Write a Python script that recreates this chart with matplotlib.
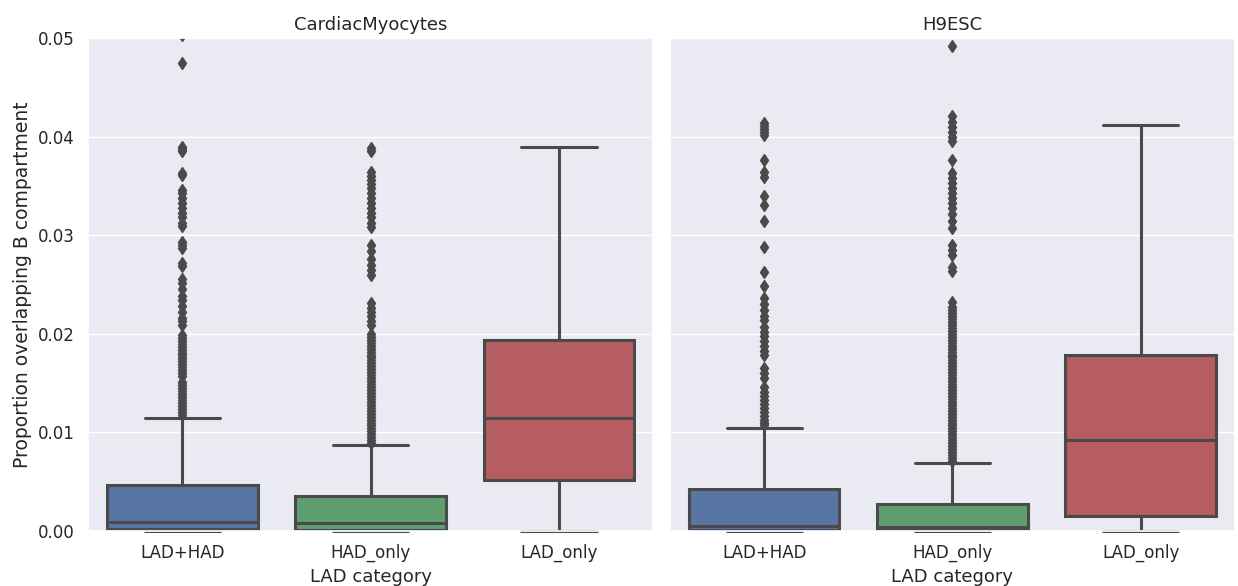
import matplotlib
matplotlib.use("Agg")
import matplotlib.pyplot as plt
import seaborn as sns

sns.set_theme(style="darkgrid")
plt.rcParams['font.family'] = ['DejaVu Sans']

panels = ["CardiacMyocytes", "H9ESC"]
categories = ["LAD+HAD", "HAD_only", "LAD_only"]
box_colors = ["#5975a4", "#5f9e6e", "#b55d60"]
edge_gray = "#4a4a4a"

# box statistics per panel, per category
cm_q1 = [0.0002, 0.0001, 0.0052]
cm_med = [0.0009, 0.0008, 0.0115]
cm_q3 = [0.0047, 0.0035, 0.0194]
cm_whislo = [0.0, 0.0, 0.0]
cm_whishi = [0.0115, 0.0087, 0.0389]

h9_q1 = [0.0001, 0.0001, 0.0015]
h9_med = [0.0005, 0.0004, 0.0092]
h9_q3 = [0.0043, 0.0027, 0.0179]
h9_whislo = [0.0, 0.0, 0.0]
h9_whishi = [0.0104, 0.0069, 0.0412]

cm_fliers_ladhad = [
    0.0503, 0.0475, 0.0389, 0.0387, 0.0385, 0.0363, 0.0361, 0.0346, 0.0343,
    0.0338, 0.0333, 0.0328, 0.0323, 0.0318, 0.0312, 0.0309, 0.0293, 0.0290,
    0.0287, 0.0272, 0.0269, 0.0256, 0.0252, 0.0245, 0.0238, 0.0234, 0.0228,
    0.0222, 0.0216, 0.0213, 0.0209, 0.0199, 0.0196, 0.0193, 0.0190, 0.0187,
    0.0184, 0.0181, 0.0178, 0.0175, 0.0172, 0.0169, 0.0166, 0.0163, 0.0160,
    0.0157, 0.0151, 0.0148, 0.0145, 0.0142, 0.0139, 0.0136, 0.0133, 0.0130,
    0.0127, 0.0124, 0.0121, 0.0118,
]
cm_fliers_hadonly = [
    0.0388, 0.0385, 0.0364, 0.0360, 0.0356, 0.0352, 0.0348, 0.0343, 0.0338,
    0.0333, 0.0328, 0.0323, 0.0318, 0.0312, 0.0308, 0.0290, 0.0284, 0.0276,
    0.0270, 0.0265, 0.0260, 0.0231, 0.0226, 0.0222, 0.0218, 0.0213, 0.0209,
    0.0200, 0.0197, 0.0194, 0.0191, 0.0188, 0.0185, 0.0182, 0.0179, 0.0176,
    0.0173, 0.0170, 0.0167, 0.0164, 0.0161, 0.0158, 0.0155, 0.0152, 0.0149,
    0.0146, 0.0143, 0.0140, 0.0137, 0.0134, 0.0131, 0.0128, 0.0125, 0.0122,
    0.0119, 0.0116, 0.0113, 0.0110, 0.0107, 0.0104, 0.0101, 0.0098, 0.0095,
    0.0092, 0.0089,
]
cm_fliers_ladonly = []

h9_fliers_ladhad = [
    0.0414, 0.0411, 0.0408, 0.0405, 0.0402, 0.0376, 0.0364, 0.0359, 0.0340,
    0.0331, 0.0314, 0.0288, 0.0263, 0.0248, 0.0236, 0.0230, 0.0224, 0.0218,
    0.0214, 0.0207, 0.0202, 0.0198, 0.0193, 0.0188, 0.0183, 0.0178, 0.0165,
    0.0160, 0.0155, 0.0146, 0.0141, 0.0137, 0.0133, 0.0129, 0.0125, 0.0121,
    0.0117, 0.0113, 0.0110, 0.0107,
]
h9_fliers_hadonly = [
    0.0492, 0.0421, 0.0415, 0.0410, 0.0405, 0.0400, 0.0396, 0.0376, 0.0363,
    0.0358, 0.0353, 0.0348, 0.0343, 0.0338, 0.0333, 0.0328, 0.0321, 0.0314,
    0.0307, 0.0290, 0.0285, 0.0280, 0.0268, 0.0264, 0.0232, 0.0227, 0.0224,
    0.0221, 0.0218, 0.0215, 0.0212, 0.0209, 0.0206, 0.0203, 0.0200, 0.0197,
    0.0194, 0.0191, 0.0188, 0.0185, 0.0182, 0.0179, 0.0176, 0.0173, 0.0170,
    0.0167, 0.0164, 0.0161, 0.0158, 0.0155, 0.0152, 0.0149, 0.0146, 0.0143,
    0.0140, 0.0137, 0.0134, 0.0131, 0.0128, 0.0125, 0.0122, 0.0119, 0.0116,
    0.0113, 0.0110, 0.0107, 0.0104, 0.0101, 0.0098, 0.0095, 0.0092, 0.0089,
    0.0086, 0.0083, 0.0080, 0.0077, 0.0074, 0.0071,
]
h9_fliers_ladonly = []

yticks = [0.00, 0.01, 0.02, 0.03, 0.04, 0.05]

panel_data = [
    (cm_q1, cm_med, cm_q3, cm_whislo, cm_whishi,
     [cm_fliers_ladhad, cm_fliers_hadonly, cm_fliers_ladonly]),
    (h9_q1, h9_med, h9_q3, h9_whislo, h9_whishi,
     [h9_fliers_ladhad, h9_fliers_hadonly, h9_fliers_ladonly]),
]

fig, axes = plt.subplots(1, 2, figsize=(12.38, 5.86), dpi=100, sharey=True)
fig.subplots_adjust(left=88 / 1238, right=1235 / 1238, top=1 - 38 / 586,
                    bottom=1 - 531 / 586, wspace=17 / 565)

for ax, title, (q1, med, q3, wlo, whi, fl) in zip(axes, panels, panel_data):
    stats = []
    for i, cat in enumerate(categories):
        stats.append(dict(q1=q1[i], med=med[i], q3=q3[i], whislo=wlo[i],
                          whishi=whi[i], fliers=fl[i], label=cat))
    bp = ax.bxp(stats, positions=range(len(categories)), widths=0.8,
                patch_artist=True, showfliers=True,
                boxprops=dict(edgecolor=edge_gray, linewidth=2.2),
                medianprops=dict(color=edge_gray, linewidth=2.2),
                whiskerprops=dict(color=edge_gray, linewidth=2.2),
                capprops=dict(color=edge_gray, linewidth=2.2),
                flierprops=dict(marker="d", markerfacecolor=edge_gray,
                                markeredgecolor=edge_gray, markersize=6,
                                linestyle="none"))
    for patch, c in zip(bp["boxes"], box_colors):
        patch.set_facecolor(c)
    for cap in bp["caps"]:
        cap.set_clip_on(False)
    ax.set_xlim(-0.5, 2.5)
    ax.set_ylim(0, 0.05)
    ax.set_yticks(yticks)
    ax.set_yticklabels([f"{v:.2f}" for v in yticks])
    ax.set_xticks(range(len(categories)))
    ax.set_xticklabels(categories, fontsize=12)
    ax.tick_params(axis="y", labelsize=12)
    ax.set_xlabel("LAD category", fontsize=13)
    ax.set_title(title, fontsize=13)
    ax.grid(axis="x", visible=False)

axes[0].set_ylabel("Proportion overlapping B compartment", fontsize=13.5)
axes[1].tick_params(axis="y", labelleft=False)

fig.savefig("out.png", dpi=100)
